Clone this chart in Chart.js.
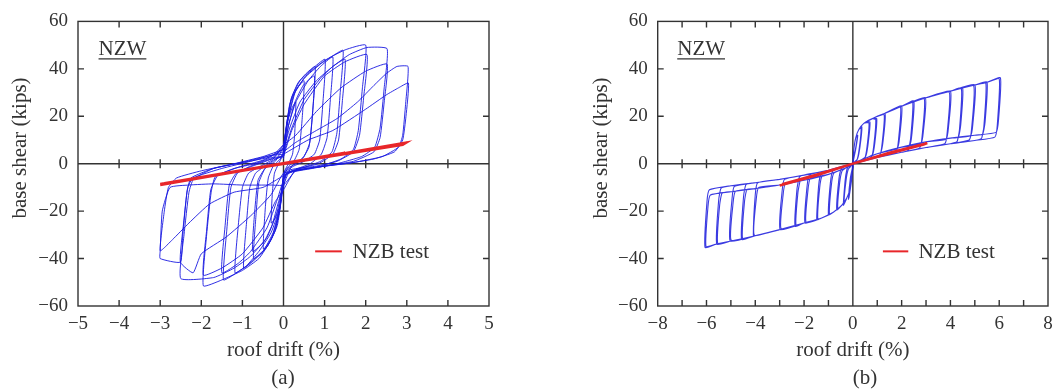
<!DOCTYPE html>
<html>
<head>
<meta charset="utf-8">
<script src="https://cdn.jsdelivr.net/npm/chart.js@4.4.1/dist/chart.umd.min.js"></script>
<style>
  html, body { margin: 0; padding: 0; background: #fff; overflow: hidden; width: 1052px; height: 391px; }
  .panel { position: absolute; top: 0; height: 391px; }
  .cap { position: absolute; top: 365px; font: 21px "Liberation Serif", serif; color: #333; transform: translateX(-50%); }
</style>
</head>
<body>
<div class="panel" style="left:0;width:520px"><canvas id="ca" width="520" height="391"></canvas></div>
<div class="panel" style="left:530px;width:532px"><canvas id="cb" width="532" height="391"></canvas></div>
<div class="cap" style="left:283px">(a)</div>
<div class="cap" style="left:865px">(b)</div>
<script>
// ---------- tick / axis labels ----------
const yTicks = [-60, -40, -20, 0, 20, 40, 60];
const xTicksA = [-5, -4, -3, -2, -1, 0, 1, 2, 3, 4, 5];
const xTicksB = [-8, -6, -4, -2, 0, 2, 4, 6, 8];
const xTitle = 'roof drift (%)';
const yTitle = 'base shear (kips)';
const legendLabel = 'NZB test';
const wallLabel = 'NZW';

// ---------- panel (a): hysteresis cycles, flat [x,y,...] ----------
const a1 = [0,2, 0.05,11, 0.12,19, 0.22,24, 0.3,26, 0.27,12, 0.22,4, 0.12,0, 0.03,-3, -0.03,-11, -0.1,-18, -0.2,-23, -0.3,-25, -0.27,-12, -0.22,-4, -0.12,0, -0.03,3, 0,4];
const a2 = [0,4, 0.06,14, 0.15,25, 0.3,31, 0.5,35, 0.45,18, 0.38,6, 0.25,1, 0.08,-2, 0,-4, -0.06,-16, -0.15,-26, -0.3,-32, -0.49,-36, -0.44,-18, -0.37,-6, -0.25,-1, -0.08,2, 0,5];
const a3 = [0,5, 0.07,16, 0.18,27, 0.35,34, 0.55,38, 0.77,41, 0.72,24, 0.64,9, 0.5,3, 0.3,0, 0.1,-2, 0,-6, -0.08,-18, -0.2,-28, -0.4,-35, -0.55,-38, -0.73,-40, -0.67,-22, -0.6,-8, -0.45,-2, -0.25,1, -0.08,3, 0,4];
const a4 = [0,4, 0.12,16, 0.28,26, 0.48,33, 0.75,37, 0.7,20, 0.62,7, 0.45,2, 0.2,-1, 0,-9, -0.12,-16, -0.28,-26, -0.48,-33, -0.75,-37, -0.7,-20, -0.62,-7, -0.45,-2, -0.2,1, 0,7];
const a5 = [0,7, 0.08,17, 0.2,28, 0.4,35, 0.7,40, 1.01,44, 0.96,26, 0.88,10, 0.75,4, 0.5,1, 0.25,-1, 0.06,-3, 0,-5, -0.08,-18, -0.2,-28, -0.4,-35, -0.7,-40, -0.97,-44, -0.9,-25, -0.82,-10, -0.68,-4, -0.45,-1, -0.2,2, 0,3];
const a6 = [0,3, 0.12,16, 0.3,26, 0.6,35, 0.9,41, 1.2,45, 1.14,27, 1.06,11, 0.92,4, 0.65,0, 0.35,-2, 0.08,-4, 0,-7, -0.1,-19, -0.3,-29, -0.6,-37, -0.9,-43, -1.18,-46, -1.1,-26, -1.0,-10, -0.85,-4, -0.55,-1, -0.25,2, 0,8];
const a7 = [0,8, 0.1,18, 0.25,29, 0.5,36, 0.9,42, 1.2,45.5, 1.45,47.8, 1.38,30, 1.3,13, 1.18,5, 0.9,1, 0.5,-1.5, 0.1,-3, 0,-10, -0.1,-19, -0.25,-29, -0.5,-37, -0.8,-42, -1.1,-45.5, -1.46,-49, -1.38,-28, -1.28,-10, -1.12,-4, -0.8,-1, -0.4,1.5, -0.05,3, 0,4];
const a8 = [0,4, 0.2,15, 0.5,27, 0.9,36, 1.2,41, 1.5,44, 1.43,26, 1.34,10, 1.2,4, 0.85,0, 0.4,-2, 0.05,-5, -0.15,-15, -0.4,-27, -0.8,-37, -1.1,-42, -1.5,-46, -1.42,-26, -1.32,-9, -1.15,-4, -0.75,-1, -0.3,2, 0,7];
const a9 = [0,7, 0.1,18, 0.3,31, 0.6,38, 1.0,43.5, 1.5,48, 2.0,50, 1.92,32, 1.82,14, 1.7,6, 1.4,2, 0.9,-1, 0.4,-2.5, 0.08,-4, 0,-6, -0.1,-20, -0.3,-32, -0.6,-40, -1.0,-45, -1.5,-49, -1.95,-51.5, -1.87,-30, -1.76,-12, -1.66,-5.5, -1.2,-2, -0.7,0, -0.3,2.5, 0,3];
const a10 = [0,3, 0.2,14, 0.5,25, 1.0,37, 1.5,43, 2.03,46, 1.95,28, 1.85,12, 1.7,5, 1.3,1, 0.8,-1, 0.3,-2.5, 0,-11, -0.2,-16, -0.5,-27, -1.0,-38, -1.5,-44, -1.95,-47, -1.87,-28, -1.77,-11, -1.6,-5, -1.1,-1.5, -0.5,1.5, 0,6];
const a11 = [0,6, 0.15,15, 0.4,26, 0.8,35, 1.2,41, 1.6,46, 2.03,49, 2.52,48.5, 2.45,32, 2.35,15, 2.22,7, 1.9,3, 1.3,0, 0.7,-2, 0.1,-4, 0,-7, -0.15,-20, -0.4,-31, -0.8,-39, -1.2,-44, -1.7,-48, -2.5,-48.4, -2.42,-30, -2.3,-12, -2.19,-6.5, -1.7,-2, -1.0,0.5, -0.3,3, 0,8];
const a12 = [0,8, 0.3,12, 0.8,22, 1.4,32, 2.0,39, 2.52,42, 2.45,26, 2.35,11, 2.2,5, 1.7,1, 1.0,-1, 0.3,-3, 0,-4, -0.3,-13, -0.8,-22, -1.4,-31, -2.0,-38, -2.2,-46, -2.51,-41.5, -2.43,-25, -2.33,-10, -2.2,-6, -1.5,-2, -0.8,1, -0.2,4, 0,5];
const a13 = [0,5, 0.3,9, 0.8,14, 1.3,19, 1.8,26, 2.2,33, 2.5,38, 2.76,41, 3.03,41, 2.97,25, 2.9,12, 2.8,7, 2.4,3, 1.7,0.5, 1.0,-1, 0.3,-3, 0,-9, -0.3,-9, -1.0,-9, -1.7,-8.5, -2.3,-9, -2.76,-10, -2.95,-20, -3.0,-36.7, -3.0,-40, -2.51,-41.5, -2.45,-30, -2.35,-12, -2.25,-6, -1.7,-2, -0.9,1, -0.3,3.5, 0,4];
const a14 = [0,4, 0.6,10, 1.2,14, 2.0,23, 2.5,29, 2.8,32, 3.04,34, 2.98,20, 2.9,10, 2.7,5, 2.2,2, 1.5,0, 0.8,-1.5, 0.2,-3, 0,-5, -0.5,-10, -1.2,-12, -1.8,-17, -2.3,-25, -2.7,-32, -3.0,-36.7, -2.9,-20, -2.8,-10, -2.6,-6, -2.0,-3, -1.2,0, -0.5,3, 0,6];
const nzbA = [-3.0,-9.0, 3.0,9.0, 2.9,7.9, -2.9,-8.2, 2.95,8.5, -3.0,-8.5, 1.5,4.6, -1.5,-4.5, 0,0];

// ---------- panel (b): self-centering cycles (two cycles per drift level) ----------
const bPosAmp   = [0.2, 0.37, 0.7, 0.98, 1.32, 2.0, 2.5, 2.97, 4.0, 4.5, 5.0, 5.5, 6.05];
const bPosPeak  = [12, 15.5, 17.6, 19, 21, 24.4, 26.5, 27.9, 30.6, 32, 33.3, 34.4, 36.2];
const bPosBase  = [1.2, 2, 2.9, 3.7, 4.6, 6.4, 7.4, 8.5, 10.3, 11.1, 11.8, 12.5, 13.2];
const bPosAmp2  = [0.18, 0.34, 0.66, 0.94, 1.28, 1.95, 2.45, 2.92, 3.95, 4.45, 4.95, 5.45, 6.0];
const bPosPeak2 = [11.5, 15, 17.2, 18.6, 20.6, 24, 26.1, 27.5, 30.2, 31.6, 32.9, 34, 35.8];
const bPosBase2 = [0.7, 1.3, 2, 2.7, 3.5, 4.9, 5.8, 6.7, 8.4, 9.3, 10, 10.6, 11.2];
const bNegAmp   = [-0.18, -0.39, -0.66, -1.0, -1.48, -1.96, -2.37, -2.98, -4.08, -4.56, -5.03, -5.58, -6.06];
const bNegPeak  = [-15, -17.5, -19.5, -21.6, -23.6, -25, -26.4, -27.8, -30.5, -31.9, -32.6, -33.9, -35.3];
const bNegBase  = [-0.8, -1.5, -2.2, -3, -4, -4.8, -5.6, -6.6, -8, -8.8, -9.5, -10.3, -11];
const bNegAmp2  = [-0.16, -0.36, -0.62, -0.96, -1.44, -1.92, -2.33, -2.94, -4.04, -4.52, -4.99, -5.54, -6.02];
const bNegPeak2 = [-14.5, -17, -19, -21.2, -23.2, -24.6, -26, -27.4, -30.1, -31.5, -32.2, -33.5, -34.9];
const bNegBase2 = [-1.3, -2.2, -3, -4, -5.2, -6.2, -7, -8.3, -10, -10.8, -11.6, -12.4, -13.2];
const bEnvPosX = [0.12, 0.25, 0.45, 0.8, 1.3, 2.0, 3.0, 4.0, 5.0, 5.5];
const bEnvPosY = [11, 14.5, 17, 19, 21.2, 24.2, 27.8, 30.6, 33.2, 34.3];
const bEnvNegX = [-0.12, -0.25, -0.45, -0.8, -1.3, -2.0, -3.0, -4.0, -5.0, -5.6];
const bEnvNegY = [-11, -14.5, -17.5, -20.5, -23, -25, -27.8, -30.4, -32.6, -33.9];
const bBandPosX  = [5.8, 5.0, 4.0, 3.0, 2.0, 1.0, 0.3];
const bBandPosY1 = [13, 12, 10.8, 9.2, 7, 4.2, 1.4];
const bBandPosY2 = [11, 9.8, 8.4, 6.8, 4.8, 2.6, 0.7];
const bBandNegX  = [-5.8, -5.0, -4.0, -3.0, -2.0, -1.0, -0.3];
const bBandNegY1 = [-10.5, -9.3, -8, -6.6, -4.8, -2.8, -0.8];
const bBandNegY2 = [-13, -11.8, -10.5, -9, -7, -4.5, -1.8];
const nzbB = [-3.0,-9.2, -1.5,-5.0, 0,0, 1.5,4.7, 3.05,8.7, 2.9,8.0, 1.5,4.3, 0,0, -1.5,-4.6, -2.9,-8.6];

// ---------- helpers ----------
const pairs = f => { const o = []; for (let i = 0; i < f.length; i += 2) o.push({x: f[i], y: f[i + 1]}); return o; };
const fmt = v => (v < 0 ? '\u2212' + Math.abs(v) : String(v));

function pushCycleB(pts, A, P, B, by, An, Pn, Bn, bny) {
  pts.push({x: 0.04, y: 6});
  bEnvPosX.forEach((x, k) => { if (x < A - 0.05) pts.push({x, y: bEnvPosY[k]}); });
  pts.push({x: A, y: P});
  pts.push({x: A - 0.08, y: B + 5});
  pts.push({x: A - 0.18, y: B});
  bBandPosX.forEach((x, k) => { if (x < A - 0.3) pts.push({x, y: by[k]}); });
  pts.push({x: 0, y: 0});
  pts.push({x: -0.04, y: -6});
  bEnvNegX.forEach((x, k) => { if (x > An + 0.05) pts.push({x, y: bEnvNegY[k]}); });
  pts.push({x: An, y: Pn});
  pts.push({x: An + 0.08, y: Bn - 5});
  pts.push({x: An + 0.18, y: Bn});
  bBandNegX.forEach((x, k) => { if (x > An + 0.3) pts.push({x, y: bny[k]}); });
  pts.push({x: 0, y: 0});
}
function buildB() {
  const pts = [{x: 0, y: 0}];
  for (let i = 0; i < bPosAmp.length; i++) {
    pushCycleB(pts, bPosAmp[i], bPosPeak[i], bPosBase[i], bBandPosY1, bNegAmp[i], bNegPeak[i], bNegBase[i], bBandNegY1);
    pushCycleB(pts, bPosAmp2[i], bPosPeak2[i], bPosBase2[i], bBandPosY2, bNegAmp2[i], bNegPeak2[i], bNegBase2[i], bBandNegY2);
  }
  return pts;
}

const FONT = '"Liberation Serif", "Times New Roman", serif';
Chart.defaults.font.family = FONT;
Chart.defaults.color = '#333';

const framePlugin = {
  id: 'frame',
  beforeDatasetsDraw(chart) {
    const {ctx, chartArea: a, scales: {x, y}} = chart;
    ctx.save();
    ctx.strokeStyle = '#333';
    ctx.lineWidth = 1.4;
    ctx.strokeRect(a.left, a.top, a.right - a.left, a.bottom - a.top);
    const x0 = x.getPixelForValue(0), y0 = y.getPixelForValue(0);
    ctx.beginPath();
    ctx.moveTo(x0, a.top); ctx.lineTo(x0, a.bottom);
    ctx.moveTo(a.left, y0); ctx.lineTo(a.right, y0);
    x.ticks.forEach(t => {
      const px = x.getPixelForValue(t.value);
      if (px <= a.left + 1 || px >= a.right - 1) return;
      ctx.moveTo(px, a.bottom); ctx.lineTo(px, a.bottom - 6);
      ctx.moveTo(px, a.top); ctx.lineTo(px, a.top + 6);
      ctx.moveTo(px, y0 - 4.5); ctx.lineTo(px, y0 + 4.5);
    });
    y.ticks.forEach(t => {
      const py = y.getPixelForValue(t.value);
      if (py <= a.top + 1 || py >= a.bottom - 1) return;
      ctx.moveTo(a.left, py); ctx.lineTo(a.left + 6, py);
      ctx.moveTo(a.right, py); ctx.lineTo(a.right - 6, py);
      ctx.moveTo(x0 - 5, py); ctx.lineTo(x0 + 5, py);
    });
    ctx.stroke();
    ctx.restore();
  },
  afterDraw(chart) {
    const {ctx, chartArea: a} = chart;
    const w = a.right - a.left, h = a.bottom - a.top;
    ctx.save();
    ctx.font = '21px ' + FONT;
    ctx.fillStyle = '#333';
    ctx.textBaseline = 'alphabetic';
    const nx = a.left + w * 0.05, ny = a.top + 34;
    ctx.fillText(wallLabel, nx, ny);
    const tw = ctx.measureText(wallLabel).width;
    ctx.strokeStyle = '#333'; ctx.lineWidth = 1.2;
    ctx.beginPath(); ctx.moveTo(nx, ny + 3.5); ctx.lineTo(nx + tw, ny + 3.5); ctx.stroke();
    const ly = a.top + h * 0.808;
    ctx.strokeStyle = '#e8262a'; ctx.lineWidth = 2;
    ctx.beginPath(); ctx.moveTo(a.left + w * 0.577, ly); ctx.lineTo(a.left + w * 0.642, ly); ctx.stroke();
    ctx.textBaseline = 'middle';
    ctx.fillText(legendLabel, a.left + w * 0.668, ly + 1);
    ctx.restore();
  }
};

function makeChart(id, xMin, xMax, xStep, xLabels, blue, red, pad, yW, blueColor, blueWidth) {
  return new Chart(document.getElementById(id), {
    type: 'scatter',
    data: {
      datasets: [
        {label: legendLabel, data: red, showLine: true, borderColor: '#e8262a', borderWidth: 2.4, pointRadius: 0, tension: 0},
        {label: 'NZW', data: blue, showLine: true, borderColor: blueColor, borderWidth: blueWidth, pointRadius: 0, tension: 0.15}
      ]
    },
    options: {
      responsive: false,
      animation: false,
      events: [],
      layout: {padding: pad},
      plugins: {legend: {display: false}, tooltip: {enabled: false}},
      scales: {
        x: {
          type: 'linear', min: xMin, max: xMax,
          grid: {display: false, drawTicks: false, tickLength: 0}, border: {display: false},
          afterBuildTicks: s => { s.ticks = []; for (let v = xMin; v <= xMax; v += xStep) s.ticks.push({value: v}); },
          afterFit: s => { s.height = 56.6; },
          ticks: {font: {size: 19}, padding: 7, maxRotation: 0, autoSkip: false,
            callback: v => (xLabels.includes(v) ? fmt(v) : '')},
          title: {display: true, text: xTitle, font: {size: 21}, padding: {top: 0, bottom: 0}}
        },
        y: {
          type: 'linear', min: -60, max: 60,
          grid: {display: false, drawTicks: false, tickLength: 0}, border: {display: false},
          afterBuildTicks: s => { s.ticks = yTicks.map(v => ({value: v})); },
          afterFit: s => { s.width = yW; },
          ticks: {font: {size: 19}, padding: 10, callback: v => fmt(v)},
          title: {display: true, text: '      ' + yTitle, font: {size: 21}, padding: {top: 7.4, bottom: 0}}
        }
      }
    },
    plugins: [framePlugin]
  });
}

const blueA = pairs([].concat(a1, a2, a3, a4, a5, a6, a7, a8, a9, a10, a11, a12, a13, a14));
makeChart('ca', -5, 5, 1, xTicksA, blueA, pairs(nzbA), {left: 0, right: 31, top: 15, bottom: 28.4}, 78, 'rgba(25,25,225,0.9)', 1);
makeChart('cb', -8, 8, 1, xTicksB, buildB(), pairs(nzbB), {left: 51.7, right: 14, top: 15, bottom: 28.4}, 76, 'rgba(25,25,220,0.85)', 1.1);
</script>
</body>
</html>
